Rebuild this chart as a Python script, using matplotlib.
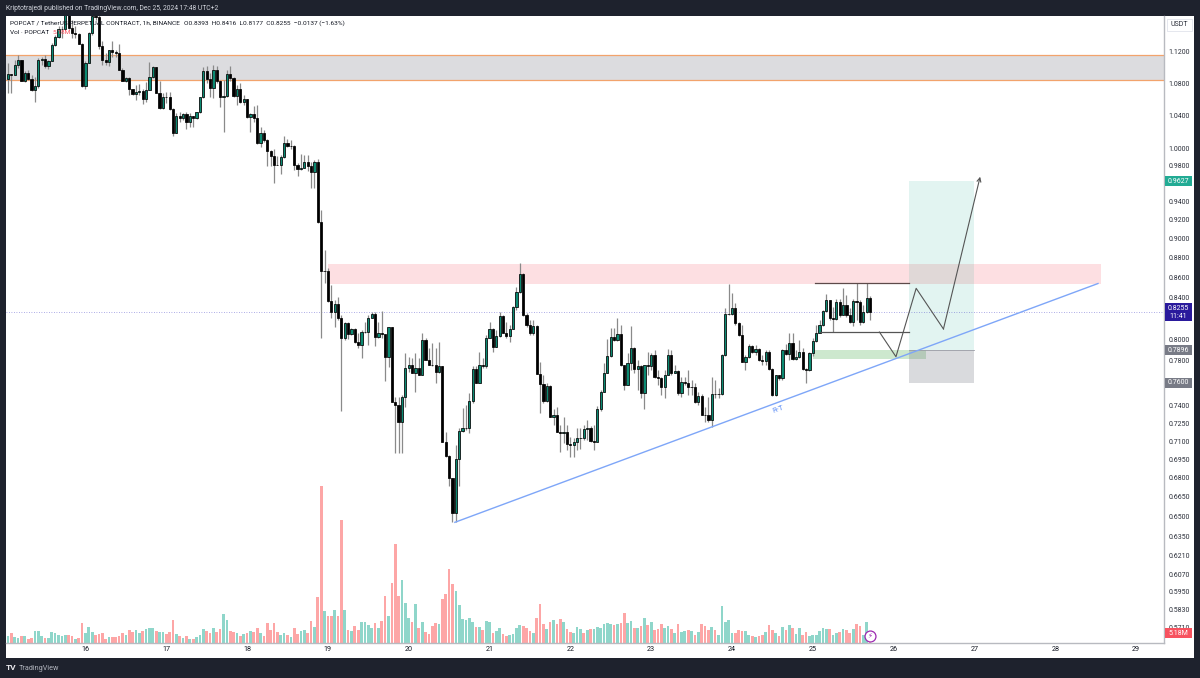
import matplotlib
matplotlib.use("Agg")
import matplotlib.pyplot as plt
from matplotlib.patches import Rectangle
from matplotlib.ticker import FixedLocator, FixedFormatter, NullLocator

plt.rcParams['font.family'] = ['Roboto', 'DejaVu Sans']

first_open = 1.085
closes = [
1.092,1.0905,1.103,1.109,1.082,1.093,1.085,1.071,1.076,1.110,
1.111,1.102,1.108,1.129,1.140,1.151,1.150,1.180,1.152,1.145,
1.144,1.131,1.076,1.106,1.145,1.168,1.167,1.128,1.110,1.107,
1.122,1.120,1.118,1.097,1.082,1.086,1.073,1.066,1.069,1.070,
1.060,1.071,1.088,1.100,1.068,1.049,1.062,1.062,1.047,1.018,
1.039,1.037,1.041,1.032,1.039,1.037,1.044,1.062,1.095,1.085,
1.074,1.097,1.082,1.063,1.064,1.092,1.086,1.064,1.073,1.056,
1.060,1.038,1.041,1.037,1.007,1.019,1.010,.9977,.991,.981,
.981,.990,1.007,1.003,1.003,.981,.977,.978,.985,.980,
.973,.985,.918,
.8669,.8669,.8370,.8263,.8334,.8198,.8009,.8150,.8050,.8093,
.7977,.7946,.8071,.8071,.8198,.8240,.8021,.8056,.8050,.7838,
.8112,.7436,.7407,.7264,.7478,.7732,.7763,.7687,.7732,.7672,
.7993,.7808,.7763,.7757,.7696,.7748,.7096,.6980,.6798,.6525,
.6950,.7187,.7207,.7207,.7441,.7723,.7603,.7763,.7748,.8015,
.8093,.7931,.8028,.8220,.8062,.8028,.8096,.8305,.8459,.8635,
.8230,.8134,.8056,.8125,.7680,.7589,.7445,.7577,.7307,.7316,
.7179,.7165,.7173,.7077,.7069,.7096,.7124,.7124,.7199,.7207,
.7102,.7096,
.7370,.7523,.7693,.7845,.8018,.7993,.8046,.7763,.7579,.7778,
.7921,.7723,.7748,.7511,.7763,.7748,.7854,.7652,.7642,.7561,
.7669,.7854,.7687,.7708,.7511,.7606,.7597,.7568,.7568,.7430,
.7486,.7324,.7316,.7273,.7505,.7505,.7499,.7854,.8236,.8236,
.8295,.8150,.8040,.7793,.7833,.7937,.7876,.7906,.7808,.7802,
.7876,.7723,.7494,.7672,.7642,.7900,.7863,.7962,.7814,.7833,
.7876,.7726,.7717,.7870,.7987,.8062,.8134,.8272,.8376,.8198,
.8189,.8352,.8230,.8322,.8230,.8166,.8369,.8359,.8160,.8262,
.8393,.8255]
highs = [
1.106,1.092,1.110,1.116,1.109,1.095,1.097,1.0905,1.088,1.112,
1.114,1.116,1.109,1.132,1.143,1.154,1.154,1.190,1.185,1.163,
1.154,1.145,1.132,1.108,1.146,1.170,1.171,1.169,1.135,1.119,
1.122,1.135,1.122,1.131,1.099,1.088,1.088,1.073,1.077,1.079,
1.073,1.081,1.107,1.102,1.100,1.082,1.067,1.069,1.069,1.049,
1.043,1.044,1.043,1.044,1.043,1.039,1.044,1.063,1.100,1.102,
1.093,1.103,1.102,1.084,1.084,1.097,1.102,1.088,1.077,1.080,
1.065,1.060,1.043,1.051,1.052,1.026,1.022,1.012,.9985,.9995,
.991,.993,1.015,1.012,1.010,1.004,.983,.994,.993,.993,
.985,.987,.988,
.9307,.888,.8693,.8525,.8376,.8409,.8230,.8166,.8166,.8103,
.8103,.8056,.8087,.8166,.8230,.8263,.8263,.8166,.8269,.8027,
.8119,.8112,.7478,.7478,.7493,.7868,.7838,.7823,.7868,.7823,
.8056,.8009,.7915,.7968,.7915,.7977,.7748,.7179,.6986,.6798,
.7069,.7207,.7378,.7407,.7508,.7748,.7748,.7885,.7823,.8040,
.8166,.8103,.8087,.8263,.8230,.8166,.8134,.8319,.8508,.8745,
.8649,.8246,.8182,.8182,.8134,.7792,.7672,.7597,.7583,.7370,
.7392,.7236,.7307,.7236,.7137,.7124,.7207,.7207,.7236,.7273,
.7222,.7236,
.7397,.7538,.7778,.8003,.8103,.8103,.8198,.8134,.7763,.7868,
.8125,.7931,.7808,.7757,.7763,.7879,.7868,.7900,.7717,.7657,
.7717,.7906,.7900,.7763,.7717,.7657,.7657,.7717,.7627,.7597,
.7523,.7505,.7392,.7476,.7657,.7627,.7553,.7863,.8295,.8536,
.8442,.8343,.8166,.8134,.7854,.7956,.7947,.7947,.7915,.7854,
.7900,.7900,.7732,.7672,.7672,.7906,.7956,.8056,.8056,.7900,
.7993,.7915,.7732,.7876,.8009,.8134,.8182,.8279,.8436,.8376,
.8312,.8382,.8382,.8496,.8425,.8295,.8382,.8540,.8376,.8328,
.8540,.8416]
lows = [
1.067,1.067,1.0905,1.099,1.082,1.081,1.084,1.070,1.056,1.074,
1.103,1.099,1.098,1.108,1.128,1.139,1.139,1.150,1.151,1.139,
1.139,1.130,1.075,1.073,1.106,1.143,1.163,1.124,1.103,1.103,
1.102,1.113,1.113,1.096,1.082,1.081,1.065,1.065,1.059,1.065,
1.054,1.056,1.071,1.086,1.067,1.048,1.048,1.055,1.046,1.015,
1.018,1.032,1.034,1.023,1.026,1.026,1.035,1.043,1.061,1.080,
1.063,1.061,1.080,1.050,1.020,1.063,1.082,1.063,1.052,1.055,
1.052,1.037,1.020,1.032,1.006,1.002,1.008,.980,.980,.961,
.981,.971,.989,1.002,1.000,.975,.969,.975,.979,.974,
.955,.955,.917,
.8009,.8541,.8360,.8198,.8118,.8182,.7350,.7993,.7999,.8040,
.7968,.7915,.7823,.8056,.7946,.8198,.7937,.8009,.8009,.7621,
.7747,.7436,.7005,.7005,.7005,.7392,.7702,.7687,.7523,.7672,
.7672,.7808,.7763,.7754,.7603,.7690,.7096,.6972,.6738,.6461,
.6461,.6738,.7179,.7193,.7165,.7421,.7597,.7597,.7732,.7732,
.8009,.7885,.7925,.8021,.8056,.8015,.7977,.8093,.8279,.8449,
.8220,.8119,.8040,.8040,.7680,.7336,.7421,.7436,.7307,.7236,
.7179,.7013,.7082,.7027,.6972,.6967,.7027,.7035,.7110,.7110,
.7096,.7027,
.7221,.7350,.7523,.7687,.7833,.7987,.7984,.7748,.7538,.7579,
.7717,.7687,.7538,.7465,.7370,.7667,.7717,.7642,.7583,.7494,
.7465,.7667,.7672,.7687,.7494,.7480,.7583,.7494,.7494,.7421,
.7407,.7319,.7262,.7256,.7216,.7465,.7465,.7494,.7845,.8230,
.8230,.8134,.8034,.7793,.7717,.7824,.7870,.7854,.7802,.7763,
.7763,.7717,.7485,.7485,.7627,.7627,.7854,.7808,.7808,.7808,
.7824,.7717,.7600,.7711,.7845,.7971,.8056,.8125,.8262,.8182,
.8071,.8182,.8214,.8262,.8214,.8157,.8125,.8182,.8134,.8150,
.8246,.8177]

volumes = [
3.8,5.0,3.1,2.8,3.5,3.5,2.2,2.8,6.4,6.0,
3.5,2.4,2.4,5.7,5.2,4.0,3.5,4.0,4.3,3.5,
2.2,2.8,10.2,5.2,8.1,5.5,4.0,4.8,5.2,2.2,
2.9,3.1,2.9,3.8,5.2,4.0,6.9,5.5,6.9,5.0,
6.4,7.3,7.6,7.9,6.4,5.5,5.5,4.5,5.7,12.1,
4.7,3.8,2.8,3.5,2.1,2.1,3.1,4.0,7.3,6.0,
5.2,7.6,5.5,7.1,15.2,11.7,6.0,5.9,5.0,3.5,
4.5,5.0,6.0,5.5,7.6,5.0,3.5,10.5,6.6,10.5,
5.9,4.3,5.0,4.3,3.1,7.6,4.7,6.4,6.9,5.0,
11.2,8.1,23.8,81.3,16.4,13.8,13.8,17.1,13.8,63.6,
16.9,6.7,6.0,8.8,6.7,10.7,11.1,9.2,7.9,10.2,
7.8,11.4,24.2,14.0,31.1,51.5,24.4,32.5,20.9,13.1,
11.1,20.4,7.6,10.7,5.9,4.8,8.6,10.2,9.8,23.0,
25.6,38.3,30.7,26.8,19.9,
12.3,11.9,13.1,10.7,8.5,8.1,6.6,11.2,10.7,5.0,
6.0,7.6,4.7,3.5,4.3,4.8,7.6,9.3,8.6,7.6,
6.0,5.2,12.8,20.4,9.7,7.4,10.7,11.7,9.7,12.3,
11.1,7.3,5.9,5.2,8.1,7.1,5.0,6.6,7.1,7.4,
8.1,7.9,9.8,10.2,9.8,9.2,9.8,10.5,15.7,10.2,
11.2,7.6,7.6,9.0,13.1,9.2,11.1,6.7,7.1,9.7,
7.6,9.0,7.1,5.2,9.7,5.5,6.0,6.7,6.0,4.0,
5.9,9.8,8.6,6.7,8.1,6.7,4.0,19.2,11.1,11.7,
5.2,5.2,6.6,6.2,6.0,4.0,3.5,3.1,3.5,4.0,
5.9,9.3,6.9,5.0,3.5,8.5,6.9,9.2,7.6,4.5,
7.6,4.0,5.9,3.6,4.0,4.0,6.4,7.6,7.3,7.3,
4.3,5.2,5.5,7.1,6.6,5.2,7.3,9.7,9.0,4.3,
10.7,5.18]
volume_dirs = (
    "trttrtrrtt" + "trttttttrr" + "trrtttrrrr" + "trrrrtrrtt" + "rtttrttrrr"
    + "trtrtrtttr" + "rtrrttrrtr" + "trtrrtrrrr" + "rttrtrrttr" + "rtrrtrrtrr"
    + "trtrrttttr" + "trrtrrrttt" + "rtrtrrrrtr" + "rrrtt"
    + "ttttrtrttr" + "ttrrttttrr" + "rtrrrtrtrr" + "trrtttrtrt" + "tttttrtrrt"
    + "trtrtrtrrr" + "ttrtrttrtr" + "trrrtrtttt" + "trrrttrtrr" + "trrtrtrtrt"
    + "trrttttttr" + "ttrtrrtrrt" + "tr")

day_labels = ["16","17","18","19","20","21","22","23","24","25","26","27","28","29"]
day_ticks = [23 + 24 * k for k in range(len(day_labels))]
price_ticks = [1.12,1.08,1.04,1.0,.98,.94,.92,.90,.88,.86,.84,.80,.78,.74,.725,.71,
               .695,.68,.665,.65,.635,.621,.607,.595,.583,.571]

grey_zone = (1.0838, 1.1160)
pink_zone = (95.0, 324.6, .8535, .8737)
trend_x, trend_y = [132.7, 323.7], [.6455, .8539]
top_line = (239.7, 267.6, .854)
mid_line = (241.2, 267.6, .8067)
zig_x = [258.8, 263.7, 269.7, 277.8, 288.7]
zig_y = [.8067, .7837, .8491, .8096, .9677]
green_zone = (239.1, 272.7, .7813, .7896)
position = (267.6, 286.9, .76, .7896, .9627)

W, H = 1200, 678
DARK = "#1e222d"
fig = plt.figure(figsize=(W / 100, H / 100), dpi=100, facecolor=DARK)

def rect(x0, y0, x1, y1):
    return [x0 / W, 1 - y1 / H, (x1 - x0) / W, (y1 - y0) / H]

fig.add_artist(Rectangle((6 / W, 1 - 658 / H), 1188 / W, 642 / H, transform=fig.transFigure,
                         facecolor="white", edgecolor="none", zorder=-5))

vol = fig.add_axes(rect(6, 16, 1164, 643), facecolor="none", zorder=1)
ax = fig.add_axes(rect(6, 16, 1164, 643), facecolor="none", zorder=2)

xlim = (-0.594, 343.3)
idx = list(range(len(closes)))
opens = [first_open] + closes[:-1]

# volume
vcol = ["#8fd6ca" if d == "t" else "#fda6a6" for d in volume_dirs]
vol.bar(idx, volumes, width=0.8, color=vcol, linewidth=0)
vol.set_xlim(*xlim)
vol.set_ylim(0, 324.8)
vol.axis("off")

# price
ax.set_yscale("log")
ax.set_xlim(*xlim)
ax.set_ylim(0.5604, 1.1682)

ax.axhspan(grey_zone[0], grey_zone[1], facecolor="#787b86", alpha=0.26, lw=0, zorder=1)
for v in grey_zone:
    ax.axhline(v, color="#f2a36c", lw=0.9, zorder=1.2)
ax.fill_between(pink_zone[:2], pink_zone[2], pink_zone[3], facecolor="#f7525f", alpha=0.18, lw=0, zorder=1)
ax.fill_between(green_zone[:2], green_zone[2], green_zone[3], facecolor="#4caf50", alpha=0.28, lw=0, zorder=1)
ax.fill_between(position[:2], position[3], position[4], facecolor="#22ab94", alpha=0.13, lw=0, zorder=1)
ax.fill_between(position[:2], position[2], position[3], facecolor="#787b86", alpha=0.28, lw=0, zorder=1)
ax.plot(position[:2], [position[3]] * 2, color="#9a9ca6", lw=0.6, zorder=1.2)
ax.axhline(closes[-1], color="#4a45c8", lw=0.6, ls=(0, (1, 2)), alpha=0.6, zorder=1.3)

ax.vlines(idx, lows, highs, color="#8a8a8a", lw=0.9, zorder=3)
ups = [c >= o for c, o in zip(closes, opens)]
bottoms = [min(c, o) for c, o in zip(closes, opens)]
heights = [abs(c - o) for c, o in zip(closes, opens)]
ax.bar(idx, heights, bottom=bottoms, width=0.66,
       color=["#0b8a72" if u else "#000000" for u in ups],
       edgecolor="#000000", linewidth=0.55, zorder=4)

ax.plot(trend_x, trend_y, color="#7ea6f8", lw=1.0, zorder=5)
ax.text(228.7, .7372, "R-T", color="#5f8ff5", fontsize=5.6, rotation=20, ha="center", va="center", zorder=5)
ax.plot(top_line[:2], [top_line[2]] * 2, color="#5d4a4a", lw=0.9, zorder=5)
ax.plot(mid_line[:2], [mid_line[2]] * 2, color="#555555", lw=0.9, zorder=5)
ax.plot(zig_x[:-1], zig_y[:-1], color="#555555", lw=0.8, zorder=5)
ax.annotate("", xy=(zig_x[-1], zig_y[-1]), xytext=(zig_x[-2], zig_y[-2]), zorder=5,
            arrowprops=dict(arrowstyle="->", color="#555555", lw=0.8, shrinkA=0, shrinkB=0, mutation_scale=7))

# axes
ax.yaxis.set_major_locator(FixedLocator(price_ticks))
ax.yaxis.set_major_formatter(FixedFormatter([f"{p:.4f}" for p in price_ticks]))
ax.yaxis.set_minor_locator(NullLocator())
ax.yaxis.tick_right()
ax.tick_params(axis="y", which="major", length=0, pad=3.2, labelsize=5.0, labelcolor="#2a2e39")
ax.set_xticks(day_ticks)
ax.set_xticklabels(day_labels)
ax.tick_params(axis="x", length=0, pad=2.5, labelsize=5.2, labelcolor="#131722")
for s in ("top", "left"):
    ax.spines[s].set_visible(False)
for s in ("right", "bottom"):
    ax.spines[s].set_color("#b8bac0")
    ax.spines[s].set_linewidth(1.0)

fig.canvas.draw()

def badge(axes, value, label, color, h=10, fs=5.0):
    y = H - axes.transData.transform((0, value))[1]
    fig.add_artist(Rectangle((1164.5 / W, 1 - (y + h / 2) / H), 27.5 / W, h / H,
                             transform=fig.transFigure, facecolor=color, edgecolor="none", zorder=6))
    fig.text(1178 / W, 1 - y / H, label, color="white", fontsize=fs, ha="center", va="center",
             zorder=7, linespacing=1.05)

badge(ax, position[4], "0.9627", "#22ab94")
badge(ax, closes[-1], "0.8255\n11:41", "#2a1a9c", h=18)
badge(ax, position[3], "0.7896", "#787b86")
badge(ax, position[2], "0.7600", "#787b86")
badge(vol, volumes[-1], "5.18M", "#f7525f")

# icon on the last volume bar
vol.scatter([idx[-1]], [3.8], s=62, facecolor="white", edgecolor="#9c27b0", linewidth=0.9, zorder=6)
vol.text(idx[-1], 3.8, "\u26a1", color="#9c27b0", fontsize=5, ha="center", va="center",
         family="DejaVu Sans", zorder=7)

def px(x, y, s, **kw):
    kw.setdefault("va", "center")
    return fig.text(x / W, 1 - y / H, s, **kw)

px(6, 8, "Kriptotrajedi published on TradingView.com, Dec 25, 2024 17:48 UTC+2", color="#d1d4dc", fontsize=4.86, zorder=8)
px(10, 23, "POPCAT / TetherUS PERPETUAL CONTRACT, 1h, BINANCE", color="#131722", fontsize=4.65, zorder=8)
px(184, 23, "O0.8393  H0.8416  L0.8177  C0.8255  \u22120.0137 (\u22121.63%)", color="#131722", fontsize=4.65, zorder=8)
px(10, 33, "Vol \u00b7 POPCAT", color="#131722", fontsize=4.65, zorder=8)
px(53, 33, "5.18M", color="#f7525f", fontsize=4.65, zorder=8)
px(6, 668, "TV", color="#e8e8ec", fontsize=6, fontweight="bold", zorder=8)
px(19, 668, "TradingView", color="#b2b5be", fontsize=5.2, zorder=8)

# USDT box
fig.add_artist(Rectangle((1167 / W, 1 - 31 / H), 25 / W, 12 / H, transform=fig.transFigure,
                         facecolor="white", edgecolor="#e0e3eb", lw=0.6, zorder=6))
px(1179.5, 25, "USDT", color="#2a2e39", fontsize=5.0, ha="center", zorder=8)

fig.savefig("out.png", dpi=100, facecolor=fig.get_facecolor())
